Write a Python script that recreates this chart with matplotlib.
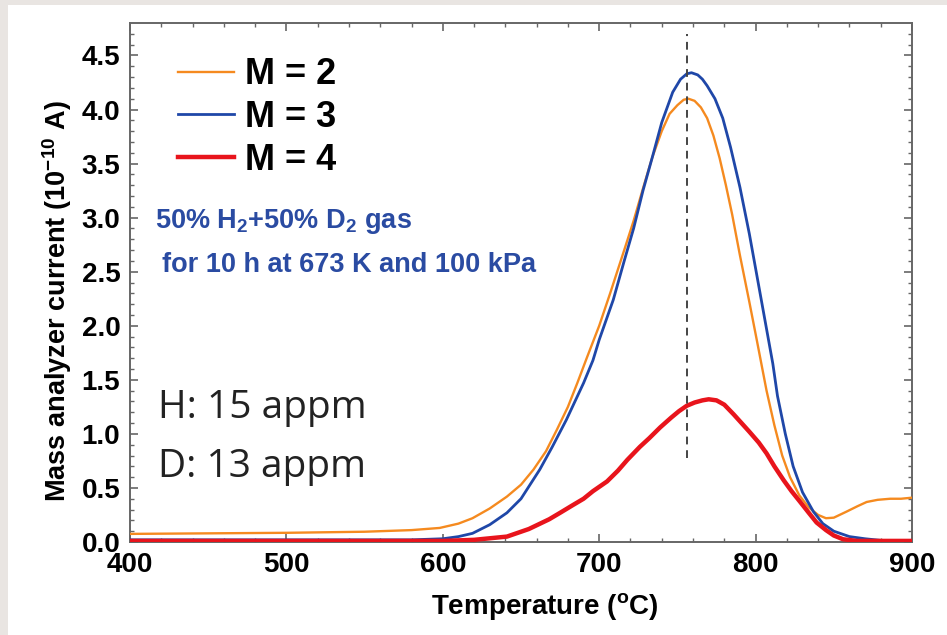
import matplotlib
matplotlib.use("Agg")
import matplotlib.pyplot as plt
from matplotlib.patches import Rectangle

plt.rcParams['font.family'] = ['Liberation Sans', 'DejaVu Sans']
plt.rcParams['mathtext.default'] = 'regular'

# M = 2 (orange)
t_m2 = [400, 450, 500, 550, 580, 598, 610, 619, 630, 641, 650, 658, 666, 673, 680, 686,
        692, 700, 707, 716, 722, 728, 734, 740, 745, 750, 754, 757, 761, 765, 769, 773,
        777, 781, 785, 790, 796, 801, 807, 812, 817, 822, 828, 834, 840, 845, 850, 858,
        865, 871, 878, 886, 893, 900]
i_m2 = [0.075, 0.08, 0.085, 0.095, 0.11, 0.13, 0.17, 0.22, 0.31, 0.42, 0.53, 0.67, 0.84,
        1.04, 1.25, 1.47, 1.70, 2.00, 2.30, 2.70, 2.97, 3.27, 3.56, 3.80, 3.96, 4.04, 4.09,
        4.10, 4.08, 4.02, 3.92, 3.76, 3.55, 3.30, 3.03, 2.65, 2.22, 1.85, 1.40, 1.08, 0.80,
        0.60, 0.43, 0.32, 0.25, 0.22, 0.225, 0.28, 0.33, 0.37, 0.39, 0.40, 0.40, 0.41]

# M = 3 (blue)
t_m3 = [400, 500, 580, 600, 610, 619, 630, 641, 650, 662, 670, 679, 690, 696, 700, 709,
        716, 722, 728, 734, 740, 747, 752, 756, 759, 763, 766, 769, 774, 779, 784, 790,
        796, 801, 806, 811, 814, 819, 824, 830, 837, 843, 850, 860, 870, 880, 900]
i_m3 = [0.02, 0.02, 0.02, 0.03, 0.05, 0.08, 0.16, 0.27, 0.40, 0.67, 0.88, 1.13, 1.47, 1.68,
        1.87, 2.24, 2.60, 2.90, 3.25, 3.56, 3.88, 4.16, 4.28, 4.33, 4.34, 4.32, 4.28, 4.22,
        4.10, 3.92, 3.65, 3.28, 2.85, 2.45, 2.05, 1.65, 1.35, 1.00, 0.70, 0.46, 0.28, 0.17,
        0.10, 0.05, 0.03, 0.015, 0.01]

# M = 4 (red)
t_m4 = [400, 600, 620, 641, 655, 668, 675, 683, 690, 696, 705, 712, 718, 726, 732, 739,
        746, 751, 756, 761, 766, 770, 775, 780, 786, 791, 796, 802, 807, 812, 818, 823,
        828, 834, 839, 845, 850, 856, 865, 900]
i_m4 = [0.01, 0.01, 0.02, 0.05, 0.12, 0.21, 0.27, 0.34, 0.40, 0.47, 0.56, 0.66, 0.76, 0.88,
        0.96, 1.06, 1.15, 1.21, 1.26, 1.29, 1.31, 1.32, 1.31, 1.27, 1.18, 1.10, 1.02, 0.92,
        0.82, 0.70, 0.57, 0.47, 0.38, 0.27, 0.18, 0.11, 0.06, 0.025, 0.01, 0.01]

peak_t = 756
peak_span = [0.78, 4.70]

fig = plt.figure(figsize=(9.47, 6.35), dpi=100)
fig.patch.set_facecolor('white')
# thin grey page border on the left and top
gray = '#e9e5e2'
fig.patches.append(Rectangle((0, 0), 8 / 947, 1, transform=fig.transFigure,
                             facecolor=gray, edgecolor='none', zorder=-1))
fig.patches.append(Rectangle((0, 1 - 5 / 635), 1, 5 / 635, transform=fig.transFigure,
                             facecolor=gray, edgecolor='none', zorder=-1))

ax = fig.add_axes([130 / 947, 93 / 635, 782 / 947, 519 / 635])
ax.plot(t_m2, i_m2, color='#f58a1f', lw=1.7, label='M = 2', zorder=3)
ax.plot(t_m3, i_m3, color='#1f47a8', lw=2.0, label='M = 3', zorder=4)
ax.plot(t_m4, i_m4, color='#e8141c', lw=3.2, label='M = 4', zorder=5)
ax.plot([peak_t, peak_t], peak_span, color='#444444', lw=1.4, ls=(0, (4, 3)), zorder=6)

ax.set_xlim(400, 900)
ax.set_ylim(0, 4.8)
ax.set_xticks([400, 500, 600, 700, 800, 900])
ax.set_xticks(range(400, 901, 20), minor=True)
ax.set_yticks([0.0, 0.5, 1.0, 1.5, 2.0, 2.5, 3.0, 3.5, 4.0, 4.5])
ax.set_yticks([k / 10 for k in range(0, 48)], minor=True)
ax.set_yticklabels(['%.1f' % v for v in ax.get_yticks()])
ax.tick_params(which='both', direction='in', top=True, right=True, color='#666666')
ax.tick_params(which='major', length=6, width=1.2, labelsize=20, pad=7)
ax.tick_params(which='minor', length=3, width=1.0)
for lab in ax.get_xticklabels() + ax.get_yticklabels():
    lab.set_fontweight('bold')
for s in ax.spines.values():
    s.set_color('#666666')
    s.set_linewidth(1.4)

ax.set_xlabel('Temperature ($^{o}$C)', fontsize=20, fontweight='bold')
ax.xaxis.set_label_coords(0.531, -0.095)
ax.set_ylabel('Mass analyzer current (10$^{-10}$ A)', fontsize=19.5, fontweight='bold')
ax.yaxis.set_label_coords(-0.072, 0.464)

leg = ax.legend(loc='upper left', bbox_to_anchor=(0.043, 0.962), frameon=False,
                prop={'size': 26, 'weight': 'bold'}, handlelength=1.55, handletextpad=0.3,
                labelspacing=0.22, borderaxespad=0)

blue_txt = '#2a4ba2'
ax.text(0.032, 0.605, '50% H$_{2}$+50% D$_{2}$ gas', transform=ax.transAxes, color=blue_txt,
        fontsize=19.5, fontweight='bold')
ax.text(0.041, 0.52, 'for 10 h at 673 K and 100 kPa', transform=ax.transAxes, color=blue_txt,
        fontsize=19.5, fontweight='bold')

ax.text(0.036, 0.239, 'H: 15 appm', transform=ax.transAxes, fontsize=28,
        family=['Open Sans', 'DejaVu Sans'], color='#222222')
ax.text(0.036, 0.125, 'D: 13 appm', transform=ax.transAxes, fontsize=28,
        family=['Open Sans', 'DejaVu Sans'], color='#222222')

fig.savefig('out.png', dpi=100)
